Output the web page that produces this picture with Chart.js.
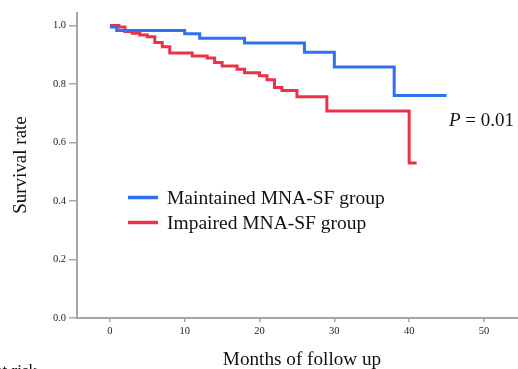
<!DOCTYPE html>
<html lang="en">
<head>
    <meta charset="UTF-8">
    <title>Survival curves</title>
    <style>
        body {
            margin: 0;
            background-color: #ffffff;
        }

        #wrap {
            width: 518px;
            height: 369px;
            position: relative;
        }
    </style>
</head>
<body>
    <div id="wrap"><canvas id="kmChart" width="518" height="369"></canvas></div>

    <script src="https://cdn.jsdelivr.net/npm/chart.js"></script>
    <script>
        // Kaplan-Meier steps
        const maintainedTimes = [0, 0.9, 10, 12, 18, 26, 30, 38, 45];
        const maintainedSurv = [0.995, 0.983, 0.972, 0.957, 0.940, 0.909, 0.858, 0.761, 0.761];

        const impairedTimes = [0, 1.2, 2, 3, 4, 5, 6, 7, 8, 11, 13, 14, 15, 17, 18, 20, 21, 22, 23, 25, 29, 40, 41];
        const impairedSurv = [1.0, 0.995, 0.980, 0.974, 0.968, 0.962, 0.942, 0.928, 0.906, 0.896, 0.889, 0.874, 0.862,
            0.851, 0.839, 0.828, 0.815, 0.788, 0.778, 0.757, 0.708, 0.530, 0.530];

        const seriesNames = ['Maintained MNA-SF group', 'Impaired MNA-SF group'];
        const xTicks = [0, 10, 20, 30, 40, 50];
        const yTicks = [0, 0.2, 0.4, 0.6, 0.8, 1.0];

        const BLUE = '#2f6ff2';
        const RED = '#ec3249';
        const AXIS = '#a6a6a6';
        const SERIF = '"Liberation Serif", "Times New Roman", serif';

        function toPoints(times, surv) {
            return times.map((t, i) => ({ x: t, y: surv[i] }));
        }

        // legend, axis titles and the p value
        const extraText = {
            id: 'extraText',
            afterDraw(chart) {
                const ctx = chart.ctx;
                ctx.save();
                ctx.fillStyle = '#111';

                // legend
                ctx.font = '19.5px ' + SERIF;
                ctx.lineWidth = 3.5;
                ctx.strokeStyle = BLUE;
                ctx.beginPath(); ctx.moveTo(128, 197.5); ctx.lineTo(158, 197.5); ctx.stroke();
                ctx.strokeStyle = RED;
                ctx.beginPath(); ctx.moveTo(128, 222.5); ctx.lineTo(158, 222.5); ctx.stroke();
                ctx.textAlign = 'left';
                ctx.textBaseline = 'alphabetic';
                ctx.fillText(seriesNames[0], 167, 204);
                ctx.fillText(seriesNames[1], 167, 229);

                // p value
                ctx.font = 'italic 19px ' + SERIF;
                ctx.fillText('P', 449, 125.5);
                const pw = ctx.measureText('P').width;
                ctx.font = '19px ' + SERIF;
                ctx.fillText(' = 0.01', 449 + pw, 125.5);

                // x title
                ctx.font = '19.2px ' + SERIF;
                ctx.textAlign = 'center';
                ctx.fillText('Months of follow up', 302, 365);

                // y title
                ctx.font = '19px ' + SERIF;
                ctx.save();
                ctx.translate(26, 165);
                ctx.rotate(-Math.PI / 2);
                ctx.fillText('Survival rate', 0, 0);
                ctx.restore();

                // risk table caption, cut off by the bottom edge
                ctx.font = '17px ' + SERIF;
                ctx.textAlign = 'right';
                ctx.fillText('Number at risk', 37, 376);
                ctx.restore();
            }
        };

        const chart = new Chart(document.getElementById('kmChart').getContext('2d'), {
            type: 'line',
            data: {
                datasets: [{
                    label: seriesNames[0],
                    data: toPoints(maintainedTimes, maintainedSurv),
                    borderColor: BLUE,
                    borderWidth: 3,
                    stepped: true,
                    pointRadius: 0,
                    fill: false
                }, {
                    label: seriesNames[1],
                    data: toPoints(impairedTimes, impairedSurv),
                    borderColor: RED,
                    borderWidth: 3,
                    stepped: true,
                    pointRadius: 0,
                    fill: false
                }]
            },
            options: {
                responsive: false,
                animation: false,
                layout: { padding: { top: 13, right: 0, left: 0, bottom: 0 } },
                plugins: {
                    legend: { display: false },
                    tooltip: { enabled: false }
                },
                scales: {
                    x: {
                        type: 'linear',
                        min: -4.4,
                        max: 54.55,
                        afterBuildTicks: s => { s.ticks = xTicks.map(v => ({ value: v })); },
                        afterFit: s => { s.height = 51; },
                        ticks: {
                            autoSkip: false,
                            maxRotation: 0,
                            padding: 3,
                            color: '#222',
                            font: { family: SERIF, size: 10.5 }
                        },
                        grid: {
                            drawOnChartArea: false,
                            drawTicks: true,
                            tickLength: 4,
                            color: AXIS,
                            lineWidth: 1.5
                        },
                        border: { color: AXIS, width: 2 }
                    },
                    y: {
                        type: 'linear',
                        min: 0,
                        max: 1.043,
                        afterBuildTicks: s => { s.ticks = yTicks.map(v => ({ value: v })); },
                        afterFit: s => { s.width = 77; },
                        ticks: {
                            padding: 3,
                            color: '#222',
                            font: { family: SERIF, size: 10.5 },
                            callback: v => v.toFixed(1)
                        },
                        grid: {
                            drawOnChartArea: false,
                            drawTicks: true,
                            tickLength: 8,
                            color: AXIS,
                            lineWidth: 1.5
                        },
                        border: { color: AXIS, width: 2 }
                    }
                }
            },
            plugins: [extraText]
        });
    </script>
</body>
</html>
